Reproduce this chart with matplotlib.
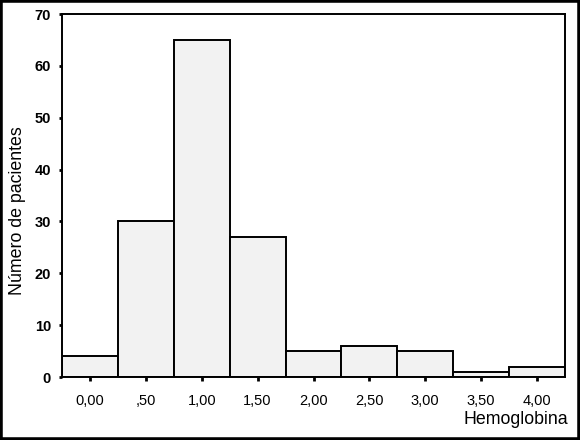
import numpy as np
import matplotlib.pyplot as plt
from matplotlib.patches import Rectangle

plt.rcParams['font.family'] = ['Liberation Sans', 'DejaVu Sans']

# datos del histograma
centros = [0.0, 0.5, 1.0, 1.5, 2.0, 2.5, 3.0, 3.5, 4.0]
pacientes = [4, 30, 65, 27, 5, 6, 5, 1, 2]
etiquetas_x = ["0,00", ",50", "1,00", "1,50", "2,00", "2,50", "3,00", "3,50", "4,00"]
ticks_y = [0, 10, 20, 30, 40, 50, 60, 70]

fig = plt.figure(figsize=(5.8, 4.4), dpi=100, facecolor="white")
ax = fig.add_axes([62/580, 1-377/440, (565-62)/580, (377-14)/440])

ax.bar(centros, pacientes, width=0.5, color="#f2f2f2", edgecolor="black", linewidth=1.4)
ax.set_xlim(-0.25, 4.25)
ax.set_ylim(0, 70)

ax.set_xticks(centros)
ax.set_xticklabels(etiquetas_x, fontsize=10.5)
ax.set_yticks(ticks_y)
ax.set_yticklabels([str(t) for t in ticks_y], fontsize=10.5, fontweight="bold")
ax.tick_params(axis="x", length=3, width=2, pad=9)
ax.tick_params(axis="y", length=2, width=2, pad=6)

for s in ax.spines.values():
    s.set_linewidth(1.4)

# titulos de los ejes
fig.text(18/580, 1-211/440, "Número de pacientes", fontsize=12.8, rotation=90,
         ha="center", va="center")
fig.text(568/580, 1-419/440, "Hemoglobina", fontsize=12.8, ha="right", va="center")

# marco negro de toda la figura
fig.patches.append(Rectangle((0, 0), 1, 1, transform=fig.transFigure, fill=False,
                             edgecolor="black", linewidth=4))

fig.savefig("out.png", dpi=100)
